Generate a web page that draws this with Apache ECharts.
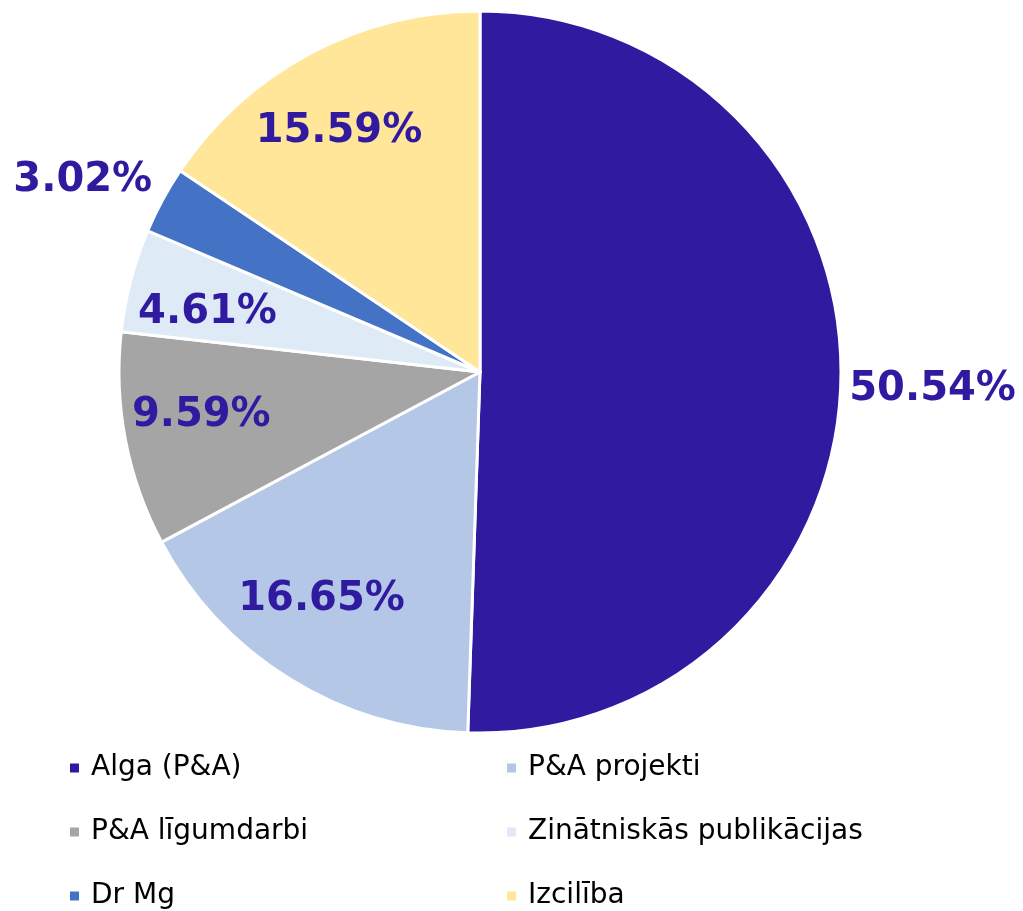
<!DOCTYPE html>
<html>
<head>
<meta charset="utf-8">
<script src="https://cdn.jsdelivr.net/npm/echarts@6/dist/echarts.min.js"></script>
<style>
html,body{margin:0;padding:0;background:#fff;}
#chart{width:1023px;height:911px;}
</style>
</head>
<body>
<div id="chart"></div>
<script>
const categories = ['Alga (P&A)', 'P&A projekti', 'P&A līgumdarbi', 'Zinātniskās publikācijas', 'Dr Mg', 'Izcilība'];
const values = [50.54, 16.65, 9.59, 4.61, 3.02, 15.59];
const colors = ['#2F1AA0', '#B4C7E7', '#A5A5A5', '#DEEBF7', '#4472C4', '#FFE699'];
const outsideLabel = [true, false, false, false, true, false];
// small label nudges (style only) to mimic the original's label placement
const labelNudge = [[2, 10], [-9, -12], [-1, -10], [1, 12], [-1, 23], [-8, 9]];

const CENTER = [480, 372];
const R = 361;
const labelColor = '#2F1AA0';
const FONT = 'DejaVu Sans, Verdana, sans-serif';
const labelFont = { color: labelColor, fontSize: 40, fontWeight: 'bold', fontFamily: FONT };

const mainData = categories.map((c, i) => ({ name: c, value: values[i], itemStyle: { color: colors[i] } }));
function labelData(showOutside) {
  return categories.map((c, i) => ({
    name: c, value: values[i],
    label: { show: outsideLabel[i] === showOutside, offset: labelNudge[i] }
  }));
}
const labelSeries = (radius, showOutside) => ({
  type: 'pie', center: CENTER, radius: radius, startAngle: 90, clockwise: true,
  silent: true, avoidLabelOverlap: false, legendHoverLink: false,
  itemStyle: { color: 'rgba(0,0,0,0)', borderWidth: 0 },
  label: Object.assign({ position: 'inside', formatter: p => p.value.toFixed(2) + '%' }, labelFont),
  labelLine: { show: false },
  emphasis: { disabled: true },
  data: labelData(showOutside)
});

const legendCommon = {
  orient: 'vertical', icon: 'rect', itemWidth: 11, itemHeight: 11, itemGap: 36,
  top: 754, height: 200, padding: 0, selectedMode: false,
  textStyle: { fontSize: 28, lineHeight: 28, color: '#000', fontFamily: FONT, padding: [0, 0, 0, 6] }
};

const chart = echarts.init(document.getElementById('chart'), null, { renderer: 'canvas' });
chart.setOption({
  animation: false,
  backgroundColor: '#fff',
  legend: [
    Object.assign({ left: 68, data: [categories[0], categories[2], categories[4]] }, legendCommon),
    Object.assign({ left: 505, data: [categories[1], categories[3], categories[5]] }, legendCommon)
  ],
  series: [
    {
      type: 'pie', center: CENTER, radius: [0, R], startAngle: 90, clockwise: true,
      avoidLabelOverlap: false,
      itemStyle: { borderColor: '#fff', borderWidth: 3 },
      label: { show: false }, labelLine: { show: false },
      emphasis: { disabled: true },
      data: mainData
    },
    labelSeries([R * 0.55, R], false),
    labelSeries([R, R * 1.48], true)
  ]
});
</script>
</body>
</html>
